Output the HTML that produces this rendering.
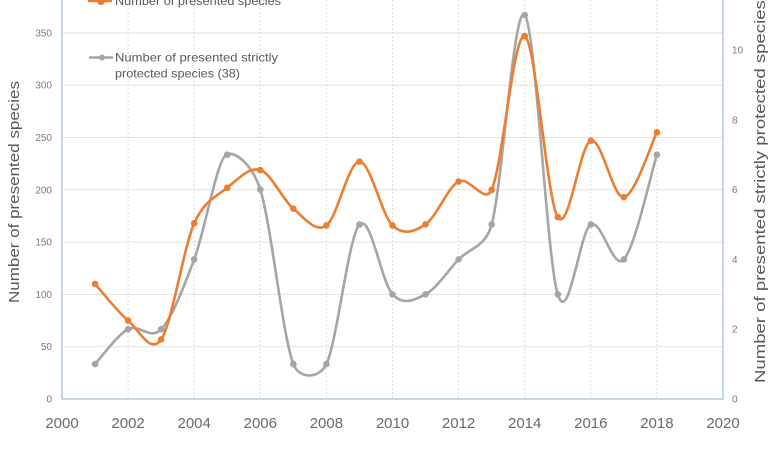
<!DOCTYPE html>
<html><head><meta charset="utf-8"><style>
html,body{margin:0;padding:0;background:#fff;}
svg{display:block;}
text{font-family:"Liberation Sans",sans-serif;}
</style></head><body>
<svg width="783" height="450" viewBox="0 0 783 450" xmlns="http://www.w3.org/2000/svg">
<rect width="783" height="450" fill="#fff"/>
<g stroke="#e2e2e2" stroke-width="1">
<line x1="62" y1="346.7" x2="723" y2="346.7"/>
<line x1="62" y1="294.4" x2="723" y2="294.4"/>
<line x1="62" y1="242.1" x2="723" y2="242.1"/>
<line x1="62" y1="189.8" x2="723" y2="189.8"/>
<line x1="62" y1="137.5" x2="723" y2="137.5"/>
<line x1="62" y1="85.2" x2="723" y2="85.2"/>
<line x1="62" y1="33" x2="723" y2="33"/>
</g>
<g stroke="#dcdcdc" stroke-width="1" stroke-dasharray="2,2">
<line x1="128.1" y1="0" x2="128.1" y2="399"/>
<line x1="194.2" y1="0" x2="194.2" y2="399"/>
<line x1="260.3" y1="0" x2="260.3" y2="399"/>
<line x1="326.4" y1="0" x2="326.4" y2="399"/>
<line x1="392.5" y1="0" x2="392.5" y2="399"/>
<line x1="458.6" y1="0" x2="458.6" y2="399"/>
<line x1="524.7" y1="0" x2="524.7" y2="399"/>
<line x1="590.8" y1="0" x2="590.8" y2="399"/>
<line x1="656.9" y1="0" x2="656.9" y2="399"/>
</g>
<g stroke="#a9bfd6" stroke-width="1.3" fill="none">
<line x1="62" y1="0" x2="62" y2="399.5"/>
<line x1="61.5" y1="399" x2="723.5" y2="399"/>
<line x1="723" y1="0" x2="723" y2="399.5"/>
</g>
<g font-size="10" fill="#7a7a7a" text-anchor="end">
<text x="52" y="402.5">0</text>
<text x="52" y="350.2">50</text>
<text x="52" y="297.9">100</text>
<text x="52" y="245.6">150</text>
<text x="52" y="193.3">200</text>
<text x="52" y="141">250</text>
<text x="52" y="88.7">300</text>
<text x="52" y="36.5">350</text>
</g>
<g font-size="10" fill="#7a7a7a" text-anchor="start">
<text x="732" y="402.5">0</text>
<text x="732" y="332.7">2</text>
<text x="732" y="262.9">4</text>
<text x="732" y="193.1">6</text>
<text x="732" y="123.3">8</text>
<text x="732" y="53.5">10</text>
</g>
<g font-size="15" fill="#6a6a6a" text-anchor="middle">
<text x="62" y="428">2000</text>
<text x="128.1" y="428">2002</text>
<text x="194.2" y="428">2004</text>
<text x="260.3" y="428">2006</text>
<text x="326.4" y="428">2008</text>
<text x="392.5" y="428">2010</text>
<text x="458.6" y="428">2012</text>
<text x="524.7" y="428">2014</text>
<text x="590.8" y="428">2016</text>
<text x="656.9" y="428">2018</text>
<text x="723" y="428">2020</text>
</g>
<text transform="translate(19,192) rotate(-90)" font-size="15" fill="#595959" text-anchor="middle" textLength="222" lengthAdjust="spacingAndGlyphs">Number of presented species</text>
<text transform="translate(765,383) rotate(-90)" font-size="15" fill="#595959" text-anchor="start" textLength="421" lengthAdjust="spacingAndGlyphs">Number of presented strictly protected species (38)</text>
<g transform="translate(62,399) scale(33.05,-34.9)">
<path fill="none" stroke="#a5a5a5" stroke-width="2.6" vector-effect="non-scaling-stroke" stroke-linejoin="round" d="M1,1 C1.1667,1.1667 1.667,1.8333 2,2 C2.333,2.1667 2.667,1.6667 3,2 C3.333,2.3333 3.667,3.1667 4,4 C4.333,4.8333 4.7,6.95 5,7.02 C5.3,7.09 5.781,6.657 6,6 C6.333,5 6.667,1.8333 7,1 C7.1771,0.5572 7.786,0.572 8,1 C8.333,1.6667 8.667,4.6667 9,5 C9.333,5.3333 9.667,3.3333 10,3 C10.333,2.6667 10.667,2.8333 11,3 C11.333,3.1667 11.667,3.6667 12,4 C12.333,4.3333 12.81,4.335 13,5 C13.333,6.1667 13.667,11.3333 14,11 C14.333,10.6667 14.667,4 15,3 C15.333,2 15.667,4.8333 16,5 C16.333,5.1667 16.667,3.6667 17,4 C17.333,4.3333 17.8333,6.5 18,7"/>
</g>
<g transform="translate(62,399) scale(33.05,-1.0457)">
<path fill="none" stroke="#ed7d31" stroke-width="2.6" vector-effect="non-scaling-stroke" stroke-linejoin="round" d="M1,110 C1.1667,104.167 1.667,83.833 2,75 C2.333,66.167 2.6766,41.96 3,57 C3.333,72.5 3.667,143.833 4,168 C4.2934,189.27 4.667,193.5 5,202 C5.333,210.5 5.667,222.333 6,219 C6.333,215.667 6.667,190.833 7,182 C7.333,173.167 7.667,158.5 8,166 C8.333,173.5 8.667,227 9,227 C9.333,227 9.667,176 10,166 C10.333,156 10.667,160 11,167 C11.333,174 11.667,202.5 12,208 C12.333,213.5 12.7864,185.15 13,200 C13.333,223.167 13.667,351.333 14,347 C14.333,342.667 14.667,190.667 15,174 C15.333,157.333 15.667,243.833 16,247 C16.333,250.167 16.667,191.667 17,193 C17.333,194.333 17.8333,244.667 18,255"/>
</g>
<g fill="#a5a5a5">
<circle cx="95.05" cy="364.1" r="3.3"/>
<circle cx="128.1" cy="329.2" r="3.3"/>
<circle cx="161.15" cy="329.2" r="3.3"/>
<circle cx="194.2" cy="259.4" r="3.3"/>
<circle cx="227.25" cy="154.7" r="3.3"/>
<circle cx="260.3" cy="189.6" r="3.3"/>
<circle cx="293.35" cy="364.1" r="3.3"/>
<circle cx="326.4" cy="364.1" r="3.3"/>
<circle cx="359.45" cy="224.5" r="3.3"/>
<circle cx="392.5" cy="294.3" r="3.3"/>
<circle cx="425.55" cy="294.3" r="3.3"/>
<circle cx="458.6" cy="259.4" r="3.3"/>
<circle cx="491.65" cy="224.5" r="3.3"/>
<circle cx="524.7" cy="15.1" r="3.3"/>
<circle cx="557.75" cy="294.3" r="3.3"/>
<circle cx="590.8" cy="224.5" r="3.3"/>
<circle cx="623.85" cy="259.4" r="3.3"/>
<circle cx="656.9" cy="154.7" r="3.3"/>
</g>
<g fill="#ed7d31">
<circle cx="95.05" cy="283.97" r="3.3"/>
<circle cx="128.1" cy="320.57" r="3.3"/>
<circle cx="161.15" cy="339.4" r="3.3"/>
<circle cx="194.2" cy="223.32" r="3.3"/>
<circle cx="227.25" cy="187.77" r="3.3"/>
<circle cx="260.3" cy="169.99" r="3.3"/>
<circle cx="293.35" cy="208.68" r="3.3"/>
<circle cx="326.4" cy="225.41" r="3.3"/>
<circle cx="359.45" cy="161.63" r="3.3"/>
<circle cx="392.5" cy="225.41" r="3.3"/>
<circle cx="425.55" cy="224.37" r="3.3"/>
<circle cx="458.6" cy="181.5" r="3.3"/>
<circle cx="491.65" cy="189.86" r="3.3"/>
<circle cx="524.7" cy="36.14" r="3.3"/>
<circle cx="557.75" cy="217.05" r="3.3"/>
<circle cx="590.8" cy="140.71" r="3.3"/>
<circle cx="623.85" cy="197.18" r="3.3"/>
<circle cx="656.9" cy="132.35" r="3.3"/>
</g>
<line x1="88" y1="1" x2="112" y2="1" stroke="#ed7d31" stroke-width="2.6"/>
<circle cx="101" cy="1" r="4" fill="#ed7d31"/>
<text x="115" y="5" font-size="12" fill="#595959" textLength="166" lengthAdjust="spacingAndGlyphs">Number of presented species</text>
<line x1="89" y1="57.5" x2="113" y2="57.5" stroke="#a5a5a5" stroke-width="2.6"/>
<circle cx="102" cy="57.5" r="3" fill="#a5a5a5"/>
<text x="115" y="61.5" font-size="12" fill="#595959" textLength="163" lengthAdjust="spacingAndGlyphs">Number of presented strictly</text>
<text x="115" y="77.5" font-size="12" fill="#595959" textLength="125" lengthAdjust="spacingAndGlyphs">protected species (38)</text>
</svg>
</body></html>
